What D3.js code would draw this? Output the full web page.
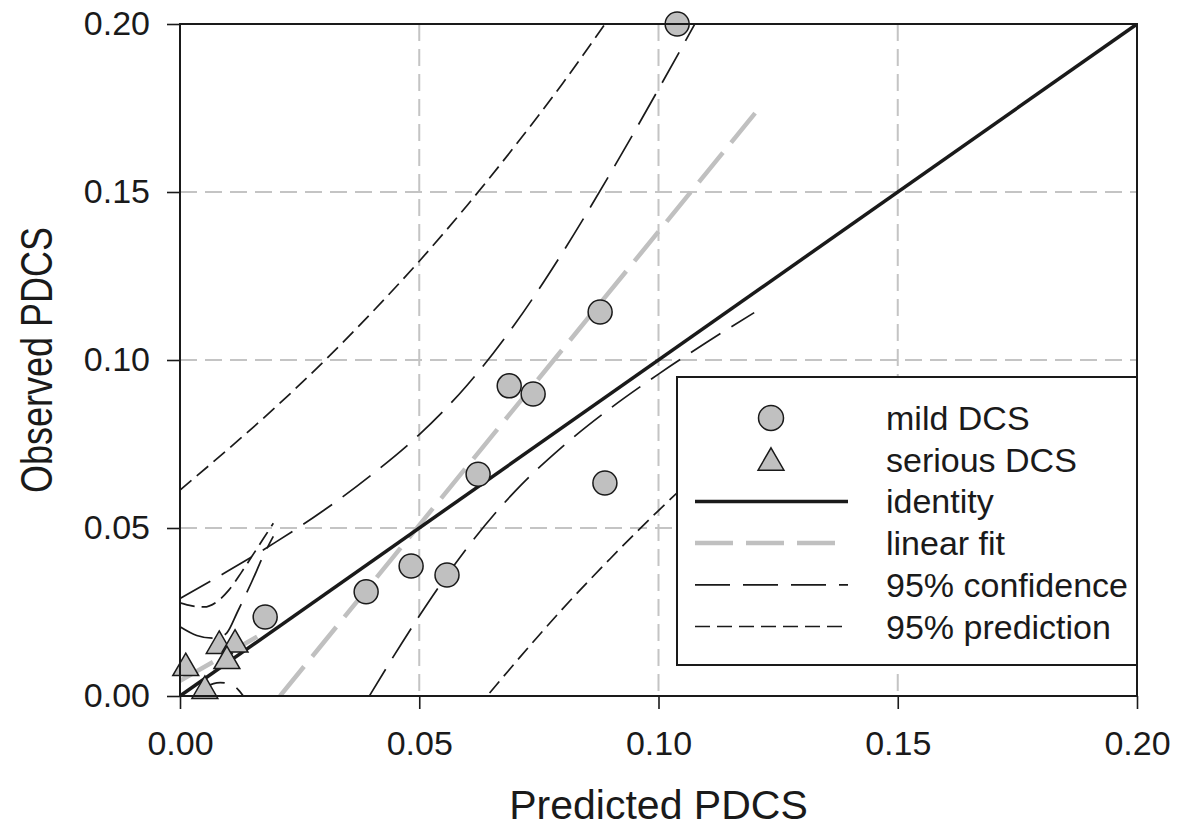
<!DOCTYPE html>
<html>
<head>
<meta charset="utf-8">
<script src="https://cdn.jsdelivr.net/npm/d3@7"></script>
<style>
  body { margin: 0; background: #fff; }
  svg { display: block; font-family: "Liberation Sans", Arial, sans-serif; }
</style>
</head>
<body>
<svg id="chart" width="1188" height="830"></svg>
<script>
// mild DCS observations
const mildX = [0.0178, 0.0389, 0.0483, 0.0558, 0.0623, 0.0688, 0.0738, 0.0878, 0.0888, 0.1039];
const mildY = [0.0235, 0.0310, 0.0387, 0.0360, 0.0660, 0.0923, 0.0899, 0.1143, 0.0634, 0.2000];

// serious DCS observations
const seriousX = [0.0012, 0.0082, 0.0115, 0.0098, 0.0052];
const seriousY = [0.0092, 0.0158, 0.0162, 0.0113, 0.0024];

// main linear fit and bands
const fitX = [0.0209, 0.1202];
const fitY = [0.0, 0.1735];
const bandX = [0, 0.01, 0.02, 0.03, 0.04, 0.05, 0.06, 0.07, 0.08, 0.09, 0.10, 0.11, 0.12];
const confUpper = [0.0290, 0.0372, 0.0458, 0.0552, 0.0658, 0.0778, 0.0925, 0.1107, 0.1321, 0.1557, 0.1806, 0.2062, 0.2321];
const confLower = [-0.1007, -0.0745, -0.0488, -0.0234, 0.0010, 0.0238, 0.0441, 0.0609, 0.0743, 0.0857, 0.0958, 0.1052, 0.1141];
const predUpper = [0.0613, 0.0734, 0.0860, 0.0995, 0.1140, 0.1294, 0.1460, 0.1637, 0.1824, 0.2024, 0.2233, 0.2451, 0.2676];
const predLower = [-0.1343, -0.1114, -0.0892, -0.0677, -0.0472, -0.0278, -0.0075, 0.0098, 0.0260, 0.0410, 0.0552, 0.0684, 0.0806];

// serious DCS fit and bands near the origin
const sFitX = [0, 0.018];
const sFitY = [0.0045, 0.0192];
const sConfUX = [0, 0.0035, 0.0068, 0.0080, 0.0098, 0.0120, 0.0150, 0.0175, 0.0195];
const sConfUY = [0.0206, 0.0180, 0.0172, 0.0174, 0.0188, 0.0250, 0.0340, 0.0420, 0.0475];
const sConfLX = [0.0035, 0.0056, 0.0084, 0.0110, 0.0135];
const sConfLY = [-0.0010, 0.0028, 0.0040, 0.0032, -0.0005];
const sPredUX = [0, 0.0025, 0.0050, 0.0082, 0.0102, 0.0127, 0.0150, 0.0175, 0.0195];
const sPredUY = [0.0277, 0.0268, 0.0265, 0.0286, 0.0315, 0.0365, 0.0415, 0.0470, 0.0514];

const ticks = [0, 0.05, 0.10, 0.15, 0.20];
const gridTicks = [0.05, 0.10, 0.15];

const legendItems = [
  { label: "mild DCS", kind: "circle" },
  { label: "serious DCS", kind: "triangle" },
  { label: "identity", kind: "identity" },
  { label: "linear fit", kind: "fit" },
  { label: "95% confidence", kind: "conf" },
  { label: "95% prediction", kind: "pred" }
];

const svg = d3.select("#chart");
const pLeft = 180, pRight = 1137, pTop = 24, pBottom = 696;

const x = d3.scaleLinear().domain([0, 0.2]).range([pLeft, pRight]);
const y = d3.scaleLinear().domain([0, 0.2]).range([pBottom, pTop]);

const styles = {
  identity: { stroke: "#1a1a1a", width: 3.5, dash: null },
  fit: { stroke: "#c0c0c0", width: 4.5, dash: "38,13" },
  conf: { stroke: "#1a1a1a", width: 1.7, dash: "35,13" },
  pred: { stroke: "#1a1a1a", width: 1.7, dash: "15,7" }
};

svg.append("rect").attr("width", 1188).attr("height", 830).attr("fill", "#fff");

svg.append("clipPath").attr("id", "plot-clip")
  .append("rect")
  .attr("x", pLeft).attr("y", pTop)
  .attr("width", pRight - pLeft).attr("height", pBottom - pTop);

// grid
const grid = svg.append("g");
grid.selectAll(".gx").data(gridTicks).join("line")
  .attr("class", "gx")
  .attr("x1", d => x(d)).attr("x2", d => x(d))
  .attr("y1", pTop).attr("y2", pBottom)
  .attr("stroke", "#c4c4c4").attr("stroke-width", 2).attr("stroke-dasharray", "17,8");
grid.selectAll(".gy").data(gridTicks).join("line")
  .attr("class", "gy")
  .attr("y1", d => y(d)).attr("y2", d => y(d))
  .attr("x1", pLeft).attr("x2", pRight)
  .attr("stroke", "#c4c4c4").attr("stroke-width", 2).attr("stroke-dasharray", "17,8");

// axes
const xAxis = svg.append("g")
  .attr("transform", `translate(0,${pBottom})`)
  .call(d3.axisBottom(x).tickValues(ticks).tickFormat(d3.format(".2f")).tickSize(13).tickPadding(22));
const yAxis = svg.append("g")
  .attr("transform", `translate(${pLeft},0)`)
  .call(d3.axisLeft(y).tickValues(ticks).tickFormat(d3.format(".2f")).tickSize(13).tickPadding(17));
[xAxis, yAxis].forEach(a => {
  a.select(".domain").remove();
  a.selectAll(".tick line").attr("stroke", "#1a1a1a").attr("stroke-width", 1.6);
  a.selectAll(".tick text").attr("fill", "#1a1a1a")
    .style("font-size", "34px").style("font-family", "'Liberation Sans', Arial, sans-serif");
});

const line = d3.line()
  .x(d => x(d[0])).y(d => y(d[1]))
  .curve(d3.curveMonotoneX);

function zipXY(xs, ys) { return xs.map((v, i) => [v, ys[i]]); }

const plot = svg.append("g").attr("clip-path", "url(#plot-clip)");

function drawLine(g, pts, kind) {
  const s = styles[kind];
  g.append("path")
    .attr("d", line(pts))
    .attr("fill", "none")
    .attr("stroke", s.stroke)
    .attr("stroke-width", s.width)
    .attr("stroke-dasharray", s.dash);
}

drawLine(plot, zipXY(bandX, predUpper), "pred");
drawLine(plot, zipXY(bandX, predLower), "pred");
drawLine(plot, zipXY(bandX, confUpper), "conf");
drawLine(plot, zipXY(bandX, confLower), "conf");
drawLine(plot, zipXY(sPredUX, sPredUY), "pred");
drawLine(plot, zipXY(sConfUX, sConfUY), "conf");
drawLine(plot, zipXY(sConfLX, sConfLY), "conf");
drawLine(plot, zipXY(sFitX, sFitY), "fit");
drawLine(plot, zipXY(fitX, fitY), "fit");
drawLine(plot, [[0, 0], [0.2, 0.2]], "identity");

// markers
const triPath = d3.symbol().type(d3.symbolTriangle).size(290)();
svg.append("g").selectAll("path")
  .data(zipXY(seriousX, seriousY)).join("path")
  .attr("d", triPath)
  .attr("transform", d => `translate(${x(d[0])},${y(d[1]) + 3})`)
  .attr("fill", "#c0c0c0").attr("stroke", "#1a1a1a").attr("stroke-width", 1.5);

svg.append("g").selectAll("circle")
  .data(zipXY(mildX, mildY)).join("circle")
  .attr("cx", d => x(d[0])).attr("cy", d => y(d[1])).attr("r", 12)
  .attr("fill", "#c0c0c0").attr("stroke", "#1a1a1a").attr("stroke-width", 1.5);

// frame
svg.append("rect")
  .attr("x", pLeft).attr("y", pTop)
  .attr("width", pRight - pLeft).attr("height", pBottom - pTop)
  .attr("fill", "none").attr("stroke", "#1a1a1a").attr("stroke-width", 2);

// axis titles
svg.append("text")
  .attr("x", (pLeft + pRight) / 2).attr("y", 819)
  .attr("text-anchor", "middle")
  .style("font-size", "41px").attr("fill", "#1a1a1a")
  .text("Predicted PDCS");

svg.append("text")
  .attr("transform", "translate(52,360) rotate(-90) scale(0.8,1)")
  .attr("text-anchor", "middle")
  .style("font-size", "45px").attr("fill", "#1a1a1a")
  .text("Observed PDCS");

// legend
const lg = svg.append("g");
lg.append("rect")
  .attr("x", 677).attr("y", 377)
  .attr("width", pRight - 677).attr("height", 288)
  .attr("fill", "#fff").attr("stroke", "#1a1a1a").attr("stroke-width", 2);

const rowY = i => 418 + i * 41.7;
legendItems.forEach((item, i) => {
  const cy = rowY(i);
  if (item.kind === "circle") {
    lg.append("circle").attr("cx", 771).attr("cy", cy).attr("r", 12.5)
      .attr("fill", "#c0c0c0").attr("stroke", "#1a1a1a").attr("stroke-width", 1.5);
  } else if (item.kind === "triangle") {
    lg.append("path").attr("d", triPath)
      .attr("transform", `translate(771,${cy + 3})`)
      .attr("fill", "#c0c0c0").attr("stroke", "#1a1a1a").attr("stroke-width", 1.5);
  } else {
    const s = styles[item.kind];
    lg.append("line")
      .attr("x1", 695).attr("x2", 848).attr("y1", cy).attr("y2", cy)
      .attr("stroke", s.stroke).attr("stroke-width", s.width)
      .attr("stroke-dasharray", s.dash);
  }
  lg.append("text")
    .attr("x", 886).attr("y", cy + 12)
    .style("font-size", "34px").attr("fill", "#1a1a1a")
    .text(item.label);
});
</script>
</body>
</html>
